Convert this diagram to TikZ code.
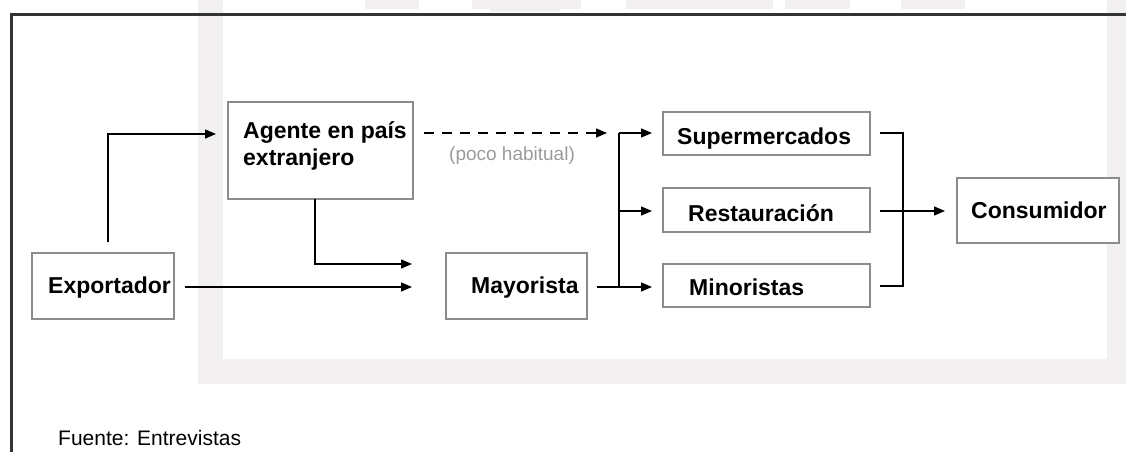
\documentclass[tikz,border=0pt]{standalone}
\usepackage{fontspec}
\setmainfont{Liberation Sans}
\usetikzlibrary{arrows.meta}
\definecolor{wm}{HTML}{F3F0F1}
\definecolor{boxgray}{HTML}{8C8C8C}
\definecolor{framegray}{HTML}{333333}
\definecolor{notegray}{HTML}{9A9A9A}
\begin{document}
\begin{tikzpicture}[x=1pt,y=-1pt,
  box/.style={draw=boxgray, fill=white, line width=1.3pt, inner sep=0pt},
  lbl/.style={font=\fontsize{23}{27}\selectfont\bfseries, inner sep=0pt, anchor=base west, align=left},
  note/.style={font=\fontsize{19}{22}\selectfont, text=notegray, inner sep=0pt, anchor=base west},
  foot/.style={font=\fontsize{21}{24}\selectfont, inner sep=0pt, anchor=base west},
  conn/.style={line width=1.4pt, -{Triangle[length=11pt,width=9pt]}},
  plainline/.style={line width=1.4pt}]
\useasboundingbox (0,0) rectangle (1126,452);
% faint watermark
\fill[wm] (198,0) rectangle (223,384);
\fill[wm] (198,359) rectangle (1126,384);
\fill[wm] (1107,0) rectangle (1126,384);
\fill[wm] (365,0) rectangle (419,9);
\fill[wm] (472,0) rectangle (581,9);
\fill[wm] (490,9) rectangle (560,12);
\fill[wm] (626,0) rectangle (773,9);
\fill[wm] (785,0) rectangle (850,9);
\fill[wm] (901,0) rectangle (965,9);
% frame
\draw[framegray, line width=3pt] (11,452) -- (11,15) -- (1126,15);
% boxes
\node[box, minimum width=185pt, minimum height=97pt] (ag) at (320.5,150.5) {};
\node[box, minimum width=142pt, minimum height=66pt] (ex) at (103,286) {};
\node[box, minimum width=141pt, minimum height=66pt] (ma) at (516.5,286) {};
\node[box, minimum width=207pt, minimum height=43pt] (su) at (766.5,133.5) {};
\node[box, minimum width=207pt, minimum height=44pt] (re) at (766.5,210) {};
\node[box, minimum width=207pt, minimum height=43pt] (mi) at (766.5,285.5) {};
\node[box, minimum width=162pt, minimum height=65pt] (co) at (1038,210.5) {};
% labels
\node[lbl] (agt) at (243,165) {Agente en país\\extranjero};
\node[lbl] (ext) at (48,293) {Exportador};
\node[lbl] (mat) at (471,293) {Mayorista};
\node[lbl] (sut) at (677,144) {Supermercados};
\node[lbl] (ret) at (688,221) {Restauración};
\node[lbl] (mit) at (689,295) {Minoristas};
\node[lbl] (cot) at (971,218) {Consumidor};
\node[note] (poco) at (449,160) {(poco habitual)};
\node[foot] (fuente) at (58,445) {Fuente: Entrevistas};
% connector end points
\coordinate (exUp) at (108,242);
\coordinate (agIn) at (216,134);
\coordinate (agDown) at (315,199);
\coordinate (maInA) at (412,264);
\coordinate (exOut) at (185,287);
\coordinate (maInB) at (412,287);
\coordinate (dashS) at (424,133);
\coordinate (dashE) at (607,133);
\coordinate (maOut) at (597,287);
\coordinate (brTop) at (619,133);
\coordinate (brMid) at (619,211);
\coordinate (brBot) at (619,287);
\coordinate (suIn) at (652,133);
\coordinate (reIn) at (652,211);
\coordinate (miIn) at (652,287);
\coordinate (suOut) at (880,133);
\coordinate (reOut) at (880,211);
\coordinate (miOut) at (880,286);
\coordinate (coIn) at (945,211);
% connectors
\draw[conn] (exUp) |- (agIn);
\draw[conn] (agDown) |- (maInA);
\draw[conn] (exOut) -- (maInB);
\draw[conn, dash pattern=on 10pt off 8pt] (dashS) -- (dashE);
\draw[conn] (maOut) -- (miIn);
\draw[plainline] (brBot) -- (brTop);
\draw[conn] (brTop) -- (suIn);
\draw[conn] (brMid) -- (reIn);
\draw[plainline] (suOut) -| (903,211) |- (miOut);
\draw[conn] (reOut) -- (coIn);
\end{tikzpicture}
\end{document}
